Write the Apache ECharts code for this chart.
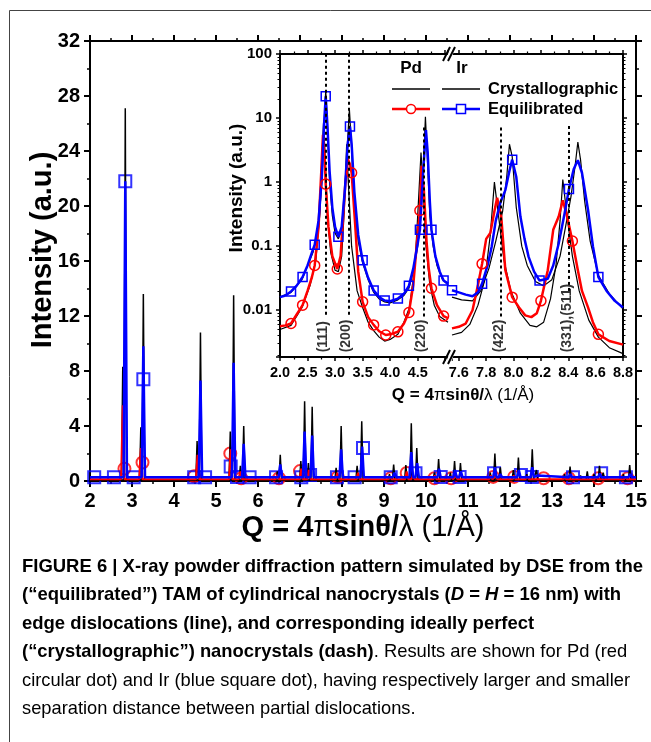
<!DOCTYPE html>
<html>
<head>
<meta charset="utf-8">
<script src="https://cdn.jsdelivr.net/npm/echarts@6/dist/echarts.min.js"></script>
<style>
html, body { margin: 0; padding: 0; background: #fff; }
#chart { width: 651px; height: 742px; }
</style>
</head>
<body>
<div id="chart"></div>
<script>
// main pattern, linear scale: [Q (1/A), intensity]
var pdCrystPeaks = [[2.78,8.3],[3.21,3.9],[4.55,2.9],[5.34,3.6],[5.58,1.1],[6.46,0.7],[7.02,1.45],[7.2,1.3],[7.86,0.95],[8.36,1.1],[9.13,0.5],[9.52,1.15],[9.66,0.8],[10.2,0.6],[10.58,0.6],[10.7,0.5],[11.53,0.6],[11.66,0.5],[12.08,0.8],[12.4,0.5],[13.3,0.5],[13.68,0.4],[14.0,0.5],[14.7,0.5]];
var irCrystPeaks = [[2.84,27.1],[3.27,13.6],[4.63,10.8],[5.42,13.5],[5.66,4.0],[6.53,1.9],[7.11,5.8],[7.29,5.4],[7.98,4.0],[8.47,4.35],[9.23,1.2],[9.65,4.2],[9.78,2.4],[10.3,1.6],[10.68,1.45],[10.82,1.3],[11.64,2.0],[11.77,1.0],[12.2,1.7],[12.53,2.3],[12.63,0.8],[13.43,1.05],[13.84,0.7],[14.13,1.1],[14.22,0.6],[14.85,1.15]];
var pdEqPeaks = [[2.78,5.5],[3.21,2.4],[4.56,1.9],[5.35,2.3],[5.58,0.7],[6.46,0.45],[7.03,0.9],[7.21,0.8],[7.89,0.6],[8.38,0.6],[9.14,0.35],[9.54,0.7],[9.69,0.45],[10.21,0.4],[10.6,0.35],[10.71,0.35],[11.54,0.4],[11.66,0.35],[12.09,0.4],[12.41,0.35],[13.3,0.3],[14.05,0.3],[14.75,0.3]];
var irEqPeaks = [[2.84,21.8],[3.27,9.8],[4.63,7.3],[5.42,8.6],[5.66,2.7],[6.53,1.2],[7.11,3.6],[7.29,3.3],[7.98,2.3],[8.48,2.5],[9.25,0.6],[9.65,2.1],[9.79,1.3],[10.31,0.9],[10.69,0.8],[10.83,0.7],[11.64,1.0],[11.77,0.5],[12.21,0.8],[12.53,1.0],[12.65,0.4],[13.44,0.5],[13.85,0.35],[14.14,0.55],[14.86,0.5]];
var baseCryst = 0.08, basePdEq = 0.12, baseIrEq = 0.28;
var pdEqMarks = [[2.82,0.9],[3.25,1.35],[4.48,0.35],[5.34,2.0],[5.6,0.2],[6.5,0.2],[7.0,0.72],[7.9,0.3],[9.16,0.2],[9.54,0.58],[10.2,0.2],[10.6,0.2],[11.6,0.3],[12.1,0.3],[12.8,0.2],[13.4,0.2],[14.1,0.2],[14.8,0.2]];
var irEqMarks = [[2.1,0.28],[2.57,0.28],[2.84,21.8],[3.04,0.28],[3.27,7.4],[4.48,0.28],[4.74,0.28],[5.35,1.05],[5.5,0.3],[5.8,0.28],[6.43,0.28],[7.03,0.28],[7.24,0.44],[7.88,0.28],[8.3,0.28],[8.5,2.4],[9.16,0.28],[9.75,0.56],[10.35,0.3],[10.8,0.3],[11.62,0.56],[12.26,0.44],[12.52,0.3],[13.5,0.28],[14.17,0.56],[14.76,0.28]];

// inset, log scale: [Q, intensity, marker?]
var pdCrystLeft = [[2.0,0.005],[2.2,0.0058],[2.4,0.011],[2.55,0.025],[2.65,0.06],[2.72,0.3],[2.76,2.5],[2.79,8.3],[2.82,2.5],[2.86,0.3],[2.92,0.08],[3.0,0.042],[3.06,0.04],[3.12,0.07],[3.17,0.4],[3.21,3.9],[3.24,1.0],[3.3,0.1],[3.4,0.02],[3.5,0.011],[3.6,0.0065],[3.7,0.0048],[3.8,0.0038],[3.9,0.0033],[4.0,0.0035],[4.14,0.0042],[4.25,0.0065],[4.35,0.011],[4.45,0.05],[4.5,0.3],[4.56,2.9],[4.6,0.8],[4.65,0.1],[4.72,0.025],[4.8,0.012],[4.9,0.008],[5.05,0.0065]];
var irCrystLeft = [[2.0,0.016],[2.2,0.019],[2.4,0.03],[2.6,0.08],[2.7,0.2],[2.76,1.0],[2.80,8],[2.83,27],[2.86,8],[2.9,1.0],[2.95,0.3],[3.0,0.16],[3.06,0.13],[3.12,0.18],[3.18,0.7],[3.23,5],[3.26,13.6],[3.29,5],[3.34,0.6],[3.42,0.12],[3.5,0.055],[3.6,0.03],[3.7,0.019],[3.8,0.015],[3.9,0.0135],[4.0,0.013],[4.14,0.0145],[4.25,0.017],[4.34,0.022],[4.42,0.04],[4.5,0.1],[4.56,0.3],[4.6,1.5],[4.64,10.5],[4.67,3],[4.72,0.3],[4.78,0.1],[4.85,0.05],[4.95,0.03],[5.05,0.025]];
var pdEqLeft = [[2.0,0.0056],[2.1,0.0058],[2.2,0.0062,1],[2.3,0.0085],[2.41,0.012,1],[2.5,0.02],[2.58,0.033],[2.63,0.05,1],[2.7,0.2],[2.75,1.5],[2.78,5.5],[2.81,2.5],[2.83,0.93,1],[2.88,0.2],[2.95,0.07],[3.04,0.044,1],[3.1,0.07],[3.18,0.8],[3.23,2.3],[3.27,1.9],[3.30,1.4,1],[3.36,0.25],[3.42,0.04],[3.50,0.0135,1],[3.6,0.0078],[3.70,0.0059,1],[3.8,0.0047],[3.92,0.0041,1],[4.0,0.0042],[4.14,0.0046,1],[4.25,0.0062],[4.34,0.0092,1],[4.42,0.025],[4.48,0.1],[4.54,0.36,1],[4.57,1.8],[4.61,0.8],[4.66,0.12],[4.70,0.045],[4.75,0.022,1],[4.85,0.012],[4.97,0.0081,1],[5.05,0.0075]];
var irEqLeft = [[2.0,0.016],[2.1,0.017],[2.2,0.0196,1],[2.3,0.024],[2.41,0.033,1],[2.5,0.05],[2.58,0.08],[2.63,0.105,1],[2.7,0.25],[2.76,1.2],[2.80,8],[2.83,21.8,1],[2.86,8],[2.9,1.5],[2.95,0.4],[3.0,0.2],[3.06,0.14,1],[3.12,0.2],[3.18,0.8],[3.23,4],[3.27,7.4,1],[3.30,4],[3.35,0.7],[3.42,0.15],[3.50,0.06,1],[3.6,0.032],[3.70,0.0204,1],[3.80,0.016],[3.90,0.0142,1],[4.0,0.0138],[4.14,0.0152,1],[4.25,0.018],[4.34,0.024,1],[4.42,0.045],[4.5,0.11],[4.54,0.18,1],[4.6,1.5],[4.65,6.5],[4.68,3],[4.72,0.5],[4.75,0.18,1],[4.82,0.07],[4.9,0.04],[4.97,0.029,1],[5.05,0.026]];
var pdCrystRight = [[7.55,0.0041],[7.62,0.0045],[7.68,0.006],[7.74,0.012],[7.79,0.03],[7.83,0.15],[7.86,1.0],[7.89,0.3],[7.93,0.06],[7.98,0.02],[8.05,0.009],[8.12,0.0058],[8.17,0.0055],[8.22,0.0065],[8.27,0.015],[8.31,0.05],[8.34,0.25],[8.36,1.1],[8.39,0.3],[8.43,0.07],[8.48,0.02],[8.55,0.007],[8.62,0.0038],[8.7,0.0026],[8.8,0.0021]];
var irCrystRight = [[7.55,0.016],[7.62,0.0145],[7.70,0.014],[7.76,0.02],[7.82,0.045],[7.87,0.12],[7.92,0.35],[7.95,1.2],[7.97,3.9],[7.99,2.5],[8.02,0.4],[8.06,0.1],[8.1,0.05],[8.16,0.028],[8.22,0.024],[8.28,0.03],[8.34,0.07],[8.38,0.2],[8.42,0.6],[8.45,1.8],[8.47,4.2],[8.49,2.2],[8.52,0.5],[8.56,0.12],[8.62,0.035],[8.7,0.018],[8.8,0.0105]];
var pdEqRight = [[7.55,0.0052],[7.6,0.0055],[7.65,0.0062],[7.70,0.01],[7.74,0.025],[7.77,0.053,1],[7.80,0.13],[7.83,0.16],[7.86,0.35],[7.88,0.57],[7.91,0.29],[7.94,0.042],[7.99,0.016,1],[8.04,0.011],[8.085,0.0083],[8.13,0.0078],[8.17,0.009],[8.20,0.014,1],[8.25,0.042],[8.29,0.18],[8.33,0.29],[8.36,0.52],[8.39,0.3],[8.43,0.12,1],[8.47,0.042],[8.5,0.02],[8.545,0.011],[8.58,0.0065],[8.62,0.0042,1],[8.7,0.0033],[8.8,0.0029]];
var irEqRight = [[7.55,0.0205,1],[7.6,0.019],[7.65,0.0175],[7.70,0.0165],[7.74,0.019],[7.77,0.026,1],[7.81,0.05],[7.84,0.098],[7.87,0.25],[7.905,0.49],[7.94,0.75],[7.97,1.5],[7.99,2.24,1],[8.02,1.2],[8.05,0.29],[8.08,0.13],[8.11,0.068],[8.15,0.04],[8.19,0.029,1],[8.25,0.031],[8.29,0.05],[8.33,0.11],[8.37,0.3],[8.405,0.78,1],[8.44,1.6],[8.47,2.2],[8.50,1.4],[8.545,0.36],[8.58,0.1],[8.62,0.033,1],[8.68,0.02],[8.74,0.014],[8.8,0.011]];

// reflections marked in the inset: line position, line top, line bottom, label
var hklLeft = [[2.83,100,0.0085,'(111)'],[3.255,100,0.0085,'(200)'],[4.61,7.5,0.008,'(220)']];
var hklRight = [[7.905,7.5,0.008,'(422)'],[8.405,7.5,0.02,'(331),(511)']];

var FONT = "'Liberation Sans', Arial, Helvetica, sans-serif";
var LOG_MIN = 0.00186, LOG_MAX = 100;

var chart = echarts.init(document.getElementById('chart'));

function stickLine(peaks, base, hw) {
    var pts = [[2, base]];
    peaks.forEach(function (p) {
        pts.push([p[0] - hw, base], [p[0], p[1]], [p[0] + hw, base]);
    });
    pts.push([15, base]);
    return pts;
}
function marked(points, sym) {
    return points.map(function (p) {
        return { value: [p[0], p[1]], symbol: p[2] ? sym : 'none' };
    });
}
function vlines(list) {
    return list.map(function (h) {
        return [{ coord: [h[0], h[2]] }, { coord: [h[0], h[1]] }];
    });
}
function hklData(list, dq) {
    return list.map(function (h) { return [h[0] - dq, 0.0022, h[3]]; });
}

// log-decade minor tick positions (2..9 in each decade), in log10 units
var logMinor = [];
for (var d = -3; d <= 1; d++) {
    for (var k = 2; k <= 9; k++) {
        var t = Math.log10(k) + d;
        if (t > Math.log10(LOG_MIN) && t < Math.log10(LOG_MAX)) logMinor.push(t);
    }
}

function axisCommon(o) {
    var base = {
        type: 'value',
        axisLine: { onZero: false, lineStyle: { color: '#000', width: 2 } },
        axisTick: { inside: false, length: 6, lineStyle: { color: '#000', width: 2 } },
        minorTick: { show: true, splitNumber: 2, length: 3, lineStyle: { color: '#000', width: 1.5 } },
        splitLine: { show: false },
        axisLabel: { show: false }
    };
    return Object.assign(base, o);
}
var mainLabel = { show: true, margin: 10, color: '#000', fontSize: 20, fontWeight: 'bold', fontFamily: FONT };
var insetTick = { inside: false, length: 4, lineStyle: { color: '#000', width: 1.5 } };
var insetMinor = { show: true, splitNumber: 2, length: 2.5, lineStyle: { color: '#000', width: 1.2 } };
function onStep(v, step) { return Math.abs(v / step - Math.round(v / step)) < 1e-6; }
function logFmt(v) {
    var l = Math.log10(v);
    return Math.abs(l - Math.round(l)) < 1e-6 ? String(Number(v.toPrecision(3))) : '';
}
var insetXLabel = { show: true, interval: 0, hideOverlap: false, margin: 8, color: '#000', fontSize: 14.5, fontWeight: 'bold', fontFamily: FONT };

function logAxis(o) {
    return Object.assign({
        type: 'log', logBase: 10, min: LOG_MIN, max: LOG_MAX,
        axisLine: { onZero: false, lineStyle: { color: '#000', width: 2 } },
        axisTick: insetTick,
        splitLine: { show: false },
        axisLabel: { show: false }
    }, o);
}
function logMinorAxis(o) {
    return Object.assign({
        type: 'value', min: Math.log10(LOG_MIN), max: Math.log10(LOG_MAX),
        axisLine: { show: false },
        axisTick: { show: true, inside: false, length: 2.5, customValues: logMinor, lineStyle: { color: '#000', width: 1 } },
        splitLine: { show: false },
        axisLabel: { show: false }
    }, o);
}

// caption, condensed to the measured line lengths of the figure
var capCtx = document.createElement('canvas').getContext('2d');
function segWidth(text, weight) {
    capCtx.font = 'normal ' + weight + ' 19px ' + FONT;
    return capCtx.measureText(text).width;
}
var cap1 = 'FIGURE 6 | X-ray powder diffraction pattern simulated by DSE from the';
var cap5 = 'circular dot) and Ir (blue square dot), having respectively larger and smaller';
var boldScale = 621 / segWidth(cap1, 'bold');
var regScale = 608 / segWidth(cap5, 'normal');
var cap4b = '(“crystallographic”) nanocrystals (dash)';
var cap4n = '. Results are shown for Pd (red';
var w4b = segWidth(cap4b, 'bold'), w4n = segWidth(cap4n, 'normal');
var mixScale = (w4b * boldScale + w4n * regScale) / (w4b + w4n);
var capRich = {
    b: { fontSize: 19, fontWeight: 'bold', fontFamily: FONT, color: '#111' },
    i: { fontSize: 19, fontWeight: 'bold', fontStyle: 'italic', fontFamily: FONT, color: '#111' },
    n: { fontSize: 19, fontFamily: FONT, color: '#333' }
};
function capLine(y, text, scale) {
    return { type: 'text', x: 22, y: y, scaleX: scale, scaleY: 1, originX: 0, originY: y,
             style: { text: text, rich: capRich, verticalAlign: 'middle', align: 'left' } };
}

var hklLabel = { show: true, position: 'inside', rotate: 90, align: 'left', verticalAlign: 'middle',
                 formatter: function (p) { return p.value[2]; },
                 color: '#000', fontSize: 14, fontWeight: 'bold', fontFamily: FONT };
var redMark = { color: 'rgba(255,255,255,0)', borderColor: '#f00', borderWidth: 1.5 };
var blueMark = { color: 'rgba(255,255,255,0)', borderColor: '#00f', borderWidth: 1.5 };

var option = {
    backgroundColor: '#fff',
    animation: false,
    grid: [
        { left: 90, top: 41, width: 546, height: 440 },
        { left: 280, top: 54, width: 168, height: 303, show: true, backgroundColor: '#fff', borderWidth: 0 },
        { left: 452, top: 54, width: 171, height: 303, show: true, backgroundColor: '#fff', borderWidth: 0 }
    ],
    xAxis: [
        axisCommon({ gridIndex: 0, position: 'bottom', min: 2, max: 15, interval: 1, axisLabel: mainLabel }),
        axisCommon({ gridIndex: 0, position: 'top', min: 2, max: 15, interval: 1 }),
        axisCommon({ gridIndex: 1, position: 'bottom', min: 2, max: 5.05, minInterval: 0.5, maxInterval: 0.5,
            axisTick: insetTick, minorTick: insetMinor,
            axisLabel: Object.assign({ formatter: function (v) { return v < 4.9 && onStep(v, 0.5) ? v.toFixed(1) : ''; } }, insetXLabel) }),
        axisCommon({ gridIndex: 1, position: 'top', min: 2, max: 5.05, minInterval: 0.5, maxInterval: 0.5,
            axisTick: insetTick, minorTick: insetMinor }),
        axisCommon({ gridIndex: 2, position: 'bottom', min: 7.55, max: 8.8, minInterval: 0.2, maxInterval: 0.2,
            axisTick: insetTick, minorTick: insetMinor,
            axisLabel: Object.assign({ formatter: function (v) { return onStep(v, 0.2) ? v.toFixed(1) : ''; } }, insetXLabel) }),
        axisCommon({ gridIndex: 2, position: 'top', min: 7.55, max: 8.8, minInterval: 0.2, maxInterval: 0.2,
            axisTick: insetTick, minorTick: insetMinor })
    ],
    yAxis: [
        axisCommon({ gridIndex: 0, position: 'left', min: 0, max: 32, interval: 4, axisLabel: mainLabel }),
        axisCommon({ gridIndex: 0, position: 'right', min: 0, max: 32, interval: 4 }),
        logAxis({ gridIndex: 1, position: 'left',
            axisLabel: { show: true, margin: 8, color: '#000', fontSize: 15, fontWeight: 'bold', fontFamily: FONT, formatter: logFmt } }),
        logAxis({ gridIndex: 2, position: 'right' }),
        logMinorAxis({ gridIndex: 1, position: 'left' }),
        logMinorAxis({ gridIndex: 2, position: 'right' })
    ],
    series: [
        { type: 'line', xAxisIndex: 0, yAxisIndex: 0, data: stickLine(pdCrystPeaks, baseCryst, 0.03), symbol: 'none',
          lineStyle: { color: '#000', width: 1.5 } },
        { type: 'line', xAxisIndex: 0, yAxisIndex: 0, data: stickLine(irCrystPeaks, baseCryst, 0.03), symbol: 'none',
          lineStyle: { color: '#000', width: 1.5 } },
        { type: 'line', xAxisIndex: 0, yAxisIndex: 0, data: stickLine(pdEqPeaks, basePdEq, 0.04), symbol: 'none',
          lineStyle: { color: '#f00', width: 2 } },
        { type: 'line', xAxisIndex: 0, yAxisIndex: 0, data: stickLine(irEqPeaks, baseIrEq, 0.04), symbol: 'none',
          lineStyle: { color: '#00f', width: 2.5 } },
        { type: 'scatter', xAxisIndex: 0, yAxisIndex: 0, data: pdEqMarks, symbol: 'circle', symbolSize: 12,
          itemStyle: { color: 'rgba(255,255,255,0)', borderColor: '#f00', borderWidth: 2 } },
        { type: 'scatter', xAxisIndex: 0, yAxisIndex: 0, data: irEqMarks, symbol: 'rect', symbolSize: 12,
          itemStyle: { color: 'rgba(255,255,255,0)', borderColor: '#00f', borderWidth: 2 } },

        // inset, left segment
        { type: 'line', xAxisIndex: 2, yAxisIndex: 2, data: pdCrystLeft, symbol: 'none', lineStyle: { color: '#000', width: 1.2 },
          markLine: { silent: true, symbol: 'none', label: { show: false },
                      lineStyle: { color: '#000', width: 2, type: [3, 3] }, data: vlines(hklLeft) } },
        { type: 'line', xAxisIndex: 2, yAxisIndex: 2, data: irCrystLeft, symbol: 'none', lineStyle: { color: '#000', width: 1.2 } },
        { type: 'line', xAxisIndex: 2, yAxisIndex: 2, data: marked(pdEqLeft, 'circle'), showAllSymbol: true, symbolSize: 10,
          lineStyle: { color: '#f00', width: 2.5 }, itemStyle: redMark },
        { type: 'line', xAxisIndex: 2, yAxisIndex: 2, data: marked(irEqLeft, 'rect'), showAllSymbol: true, symbolSize: 9,
          lineStyle: { color: '#00f', width: 2.5 }, itemStyle: blueMark },
        { type: 'scatter', xAxisIndex: 2, yAxisIndex: 2, data: hklData(hklLeft, 0.05), symbolSize: 2,
          itemStyle: { color: 'rgba(0,0,0,0)' }, z: 5, label: hklLabel },

        // inset, right segment
        { type: 'line', xAxisIndex: 4, yAxisIndex: 3, data: pdCrystRight, symbol: 'none', lineStyle: { color: '#000', width: 1.2 },
          markLine: { silent: true, symbol: 'none', label: { show: false },
                      lineStyle: { color: '#000', width: 2, type: [3, 3] }, data: vlines(hklRight) } },
        { type: 'line', xAxisIndex: 4, yAxisIndex: 3, data: irCrystRight, symbol: 'none', lineStyle: { color: '#000', width: 1.2 } },
        { type: 'line', xAxisIndex: 4, yAxisIndex: 3, data: marked(pdEqRight, 'circle'), showAllSymbol: true, symbolSize: 10,
          lineStyle: { color: '#f00', width: 2.5 }, itemStyle: redMark },
        { type: 'line', xAxisIndex: 4, yAxisIndex: 3, data: marked(irEqRight, 'rect'), showAllSymbol: true, symbolSize: 9,
          lineStyle: { color: '#00f', width: 2.5 }, itemStyle: blueMark },
        { type: 'scatter', xAxisIndex: 4, yAxisIndex: 3, data: hklData(hklRight, 0.01), symbolSize: 2,
          itemStyle: { color: 'rgba(0,0,0,0)' }, z: 5, label: hklLabel }
    ],
    graphic: [
        // page frame
        { type: 'rect', silent: true, shape: { x: 9.5, y: 10.5, width: 700, height: 800 },
          style: { fill: 'none', stroke: '#444', lineWidth: 1 } },
        // axis titles
        { type: 'text', x: 43, y: 250, rotation: Math.PI / 2,
          style: { text: 'Intensity (a.u.)', fontSize: 29, fontWeight: 'bold', fontFamily: FONT, fill: '#000', align: 'center', verticalAlign: 'middle' } },
        { type: 'text', x: 363, y: 528,
          style: { text: '{b|Q = 4}{n|π}{b|sinθ/}{n|λ (1/Å)}', align: 'center', verticalAlign: 'middle', fill: '#000',
                   rich: { b: { fontSize: 29, fontWeight: 'bold', fontFamily: FONT }, n: { fontSize: 29, fontFamily: FONT } } } },
        { type: 'text', x: 237, y: 188, rotation: Math.PI / 2,
          style: { text: 'Intensity (a.u.)', fontSize: 19, fontWeight: 'bold', fontFamily: FONT, fill: '#000', align: 'center', verticalAlign: 'middle' } },
        { type: 'text', x: 463, y: 395,
          style: { text: '{b|Q = 4}{n|π}{b|sinθ/}{n|λ (1/Å)}', align: 'center', verticalAlign: 'middle', fill: '#000',
                   rich: { b: { fontSize: 17, fontWeight: 'bold', fontFamily: FONT }, n: { fontSize: 17, fontFamily: FONT } } } },
        // axis break marks
        { type: 'polygon', silent: true, shape: { points: [[445, 365], [451, 349], [456, 349], [450, 365]] }, style: { fill: '#fff' }, z: 10 },
        { type: 'line', silent: true, shape: { x1: 443, y1: 364, x2: 450, y2: 350 }, style: { stroke: '#000', lineWidth: 2 }, z: 11 },
        { type: 'line', silent: true, shape: { x1: 448, y1: 364, x2: 455, y2: 350 }, style: { stroke: '#000', lineWidth: 2 }, z: 11 },
        { type: 'polygon', silent: true, shape: { points: [[445, 62], [451, 46], [456, 46], [450, 62]] }, style: { fill: '#fff' }, z: 10 },
        { type: 'line', silent: true, shape: { x1: 443, y1: 61, x2: 450, y2: 47 }, style: { stroke: '#000', lineWidth: 2 }, z: 11 },
        { type: 'line', silent: true, shape: { x1: 448, y1: 61, x2: 455, y2: 47 }, style: { stroke: '#000', lineWidth: 2 }, z: 11 },
        // inset legend
        { type: 'text', x: 411, y: 68, z: 12, style: { text: 'Pd', fontSize: 17, fontWeight: 'bold', fontFamily: FONT, fill: '#000', align: 'center', verticalAlign: 'middle' } },
        { type: 'text', x: 462, y: 68, z: 12, style: { text: 'Ir', fontSize: 17, fontWeight: 'bold', fontFamily: FONT, fill: '#000', align: 'center', verticalAlign: 'middle' } },
        { type: 'line', z: 12, shape: { x1: 392, y1: 89, x2: 430, y2: 89 }, style: { stroke: '#000', lineWidth: 1.5 } },
        { type: 'line', z: 12, shape: { x1: 442, y1: 89, x2: 480, y2: 89 }, style: { stroke: '#000', lineWidth: 1.5 } },
        { type: 'text', x: 488, y: 89, z: 12, style: { text: 'Crystallographic', fontSize: 16.5, fontWeight: 'bold', fontFamily: FONT, fill: '#000', align: 'left', verticalAlign: 'middle' } },
        { type: 'line', z: 12, shape: { x1: 392, y1: 109, x2: 430, y2: 109 }, style: { stroke: '#f00', lineWidth: 2.5 } },
        { type: 'circle', z: 13, shape: { cx: 411, cy: 109, r: 4.5 }, style: { fill: '#fff', stroke: '#f00', lineWidth: 1.5 } },
        { type: 'line', z: 12, shape: { x1: 442, y1: 109, x2: 480, y2: 109 }, style: { stroke: '#00f', lineWidth: 2.5 } },
        { type: 'rect', z: 13, shape: { x: 456.5, y: 104.5, width: 9, height: 9 }, style: { fill: '#fff', stroke: '#00f', lineWidth: 1.5 } },
        { type: 'text', x: 488, y: 109, z: 12, style: { text: 'Equilibrated', fontSize: 16.5, fontWeight: 'bold', fontFamily: FONT, fill: '#000', align: 'left', verticalAlign: 'middle' } },
        // caption
        capLine(567, '{b|' + cap1 + '}', boldScale),
        capLine(595, '{b|(“equilibrated”) TAM of cylindrical nanocrystals (}{i|D}{b| = }{i|H}{b| = 16 nm) with}', boldScale),
        capLine(624, '{b|edge dislocations (line), and corresponding ideally perfect}', boldScale),
        capLine(652, '{b|' + cap4b + '}{n|' + cap4n + '}', mixScale),
        capLine(681, '{n|' + cap5 + '}', regScale),
        capLine(709, '{n|separation distance between partial dislocations.}', regScale)
    ]
};

chart.setOption(option);
</script>
</body>
</html>
